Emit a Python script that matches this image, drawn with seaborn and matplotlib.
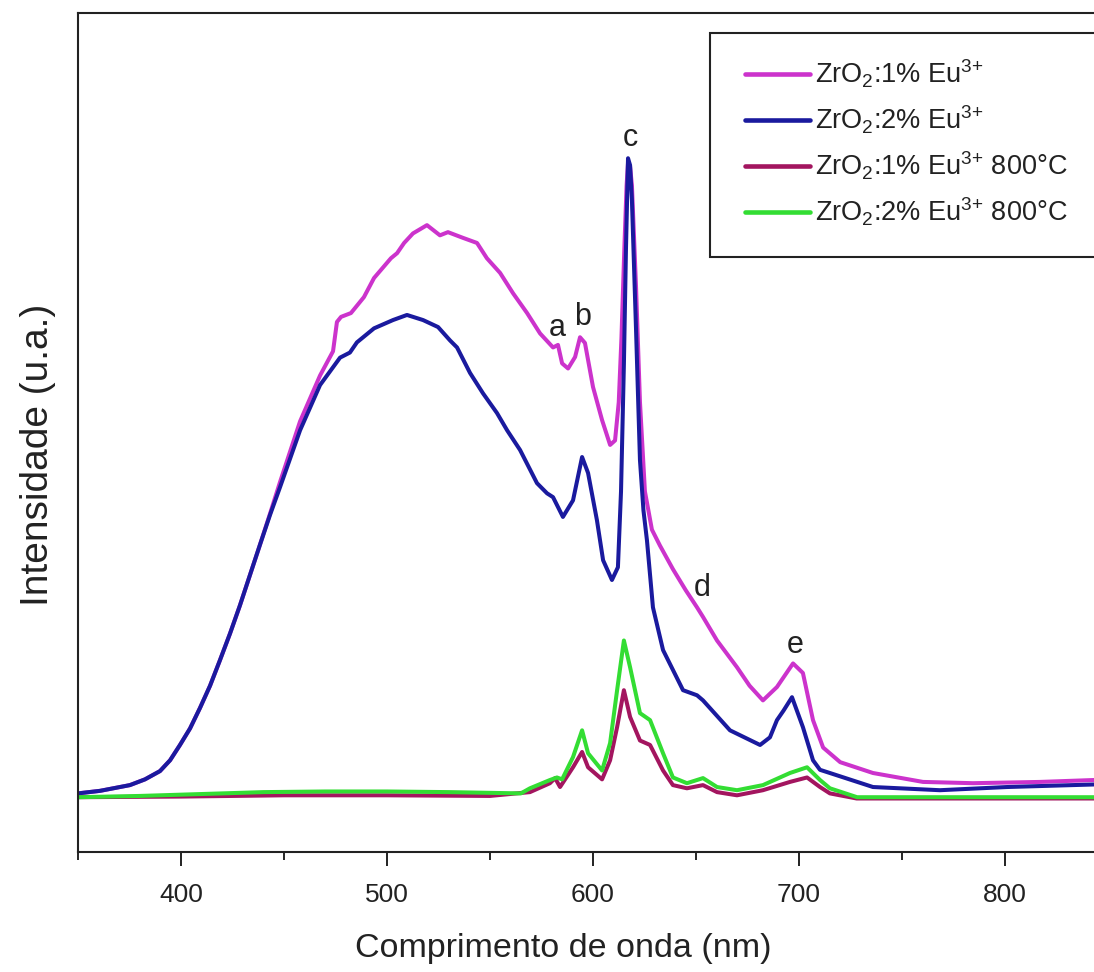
import numpy as np
import pandas as pd
import matplotlib
matplotlib.use("Agg")
import matplotlib.pyplot as plt
import matplotlib.patches as mpatches
import seaborn as sns

# ---------------- data (wavelength in nm, intensity in a.u.) ----------------
wl_1 = [350, 360.7, 375.2, 382.5, 389.8, 394.7, 399.5, 404.4, 409.2, 414.1, 418.9,
        423.8, 428.6, 433.5, 438.3, 443.2, 448.1, 457.8, 467.5, 473.8, 475.7, 477.7,
        482.5, 488.8, 493.7, 501.9, 504.9, 508.3, 512.6, 519.4, 525.7, 529.6, 536.9,
        543.7, 548.5, 554.9, 561.2, 568.0, 574.3, 580.6, 583.0, 585.0, 587.9, 591.3,
        593.7, 596.1, 600.0, 604.4, 608.3, 610.7, 612.5, 613.8, 615.2, 616.3, 617.0,
        618.0, 618.9, 620.9, 622.8, 625.2, 628.6, 632.5, 638.8, 645.0, 650.5, 653.4,
        660.2, 669.9, 676.0, 682.5, 689.3, 697.1, 701.9, 706.8, 711.7, 720.0, 735.9,
        760.2, 784.5, 817.0, 843.2, 850.0]
int_1 = [0.6, 1.0, 1.9, 2.8, 4.1, 5.8, 8.2, 10.8, 14.0, 17.5, 21.5,
         25.7, 30.1, 34.9, 39.6, 44.5, 49.5, 59.0, 66.2, 70.0, 74.6, 75.4,
         76.0, 78.5, 81.5, 84.6, 85.4, 87.0, 88.5, 89.8, 88.2, 88.7, 87.8,
         87.0, 84.6, 82.3, 79.1, 76.0, 72.8, 70.6, 71.0, 68.1, 67.3, 69.1,
         72.2, 71.3, 64.4, 59.2, 55.3, 56.0, 62.0, 72.0, 86.0, 96.0, 99.6,
         99.0, 96.0, 80.0, 62.0, 48.0, 42.0, 39.5, 35.8, 32.5, 29.8, 28.3,
         24.6, 20.4, 17.5, 15.2, 17.3, 21.0, 19.5, 12.1, 7.8, 5.5, 3.8,
         2.4, 2.2, 2.4, 2.7, 2.8]

wl_2 = [350, 360.7, 375.2, 382.5, 389.8, 394.7, 399.5, 404.4, 409.2, 414.1, 418.9,
        423.8, 428.6, 433.5, 438.3, 443.2, 448.1, 457.8, 467.5, 477.2, 482.0, 485.4,
        493.7, 502.9, 509.7, 517.5, 524.8, 530.6, 534.0, 540.3, 546.6, 553.4, 558.3,
        564.6, 572.8, 577.7, 580.6, 585.4, 590.3, 594.7, 597.6, 601.9, 604.9, 609.2,
        612.1, 613.6, 615.0, 616.0, 617.0, 618.0, 618.9, 620.9, 622.8, 624.5, 626.2,
        629.1, 634.0, 643.7, 650.5, 653.4, 666.5, 681.1, 685.9, 689.3, 692.5, 696.6,
        701.9, 706.8, 710.2, 715.0, 735.9, 768.4, 801.0, 843.2, 850.0]
int_2 = [0.6, 1.0, 1.9, 2.8, 4.1, 5.8, 8.2, 10.8, 14.0, 17.5, 21.5,
         25.7, 30.1, 34.9, 39.6, 44.3, 48.7, 57.6, 64.7, 69.0, 69.8, 71.4,
         73.6, 74.9, 75.7, 74.9, 73.8, 71.7, 70.6, 66.6, 63.4, 60.3, 57.6,
         54.5, 49.3, 47.7, 47.1, 44.0, 46.6, 53.4, 50.9, 43.5, 37.2, 34.1,
         36.1, 48.0, 68.0, 86.0, 100.3, 99.2, 93.7, 73.3, 52.9, 45.0, 40.3,
         29.8, 23.1, 16.8, 16.0, 15.2, 10.5, 8.2, 9.4, 12.1, 13.6, 15.7,
         11.0, 5.8, 4.3, 3.8, 1.6, 1.1, 1.6, 2.0, 2.1]

wl_3 = [350, 400, 450, 500, 550, 569.4, 579.1, 581.6, 584.0, 590.3, 594.7, 597.6,
        604.4, 608.3, 611.7, 615.0, 618.0, 622.8, 627.7, 634.0, 638.8, 645.6, 653.4,
        660.2, 669.9, 682.5, 695.6, 703.9, 710.2, 715.0, 728.0, 850.0]
int_3 = [0.0, 0.1, 0.3, 0.3, 0.2, 0.8, 2.2, 3.0, 1.6, 4.7, 7.1, 4.7,
         2.8, 5.8, 11.0, 16.8, 12.6, 8.9, 8.2, 4.2, 1.9, 1.4, 1.9,
         0.8, 0.3, 1.1, 2.4, 3.1, 1.6, 0.6, -0.2, -0.2]

wl_4 = [350, 380, 410, 440, 470, 500, 530, 565, 569.4, 579.1, 582.5, 585.0, 590.3,
        594.7, 597.6, 604.4, 608.3, 611.7, 615.0, 618.0, 622.8, 627.7, 634.0, 638.8,
        645.6, 653.4, 660.2, 669.9, 682.5, 695.6, 703.9, 710.2, 715.0, 728.2, 850.0]
int_4 = [0.0, 0.2, 0.5, 0.8, 0.9, 0.9, 0.8, 0.6, 1.4, 2.7, 3.1, 2.8, 6.3,
         10.5, 6.9, 4.2, 8.5, 16.8, 24.6, 20.4, 13.2, 12.1, 6.9, 3.1,
         2.2, 3.0, 1.6, 1.1, 1.9, 3.8, 4.7, 2.7, 1.4, 0.0, 0.0]

series_labels = [r"ZrO$_2$:1% Eu$^{3{+}}$",
                 r"ZrO$_2$:2% Eu$^{3{+}}$",
                 r"ZrO$_2$:1% Eu$^{3{+}}$ 800°C",
                 r"ZrO$_2$:2% Eu$^{3{+}}$ 800°C"]
series_colors = ["#cc33cc", "#1a1a9e", "#a3155f", "#33dd33"]

peak_labels = ["a", "b", "c", "d", "e"]
peak_x = [582.5, 595.1, 618.0, 652.9, 698.0]
peak_y = [73.6, 75.4, 103.5, 32.8, 23.9]

x_ticks = [400, 500, 600, 700, 800]

# ---------------- build long-form table ----------------
frames = []
for lab, w, v in zip(series_labels, [wl_1, wl_2, wl_3, wl_4], [int_1, int_2, int_3, int_4]):
    frames.append(pd.DataFrame({"wl": w, "I": v, "serie": lab}))
df = pd.concat(frames, ignore_index=True)

# ---------------- style ----------------
sns.set_style("ticks")
plt.rcParams["font.family"] = ["Liberation Sans", "DejaVu Sans"]
plt.rcParams["mathtext.fontset"] = "custom"
plt.rcParams["mathtext.rm"] = "Liberation Sans"
plt.rcParams["mathtext.it"] = "Liberation Sans:italic"
plt.rcParams["mathtext.bf"] = "Liberation Sans:bold"
plt.rcParams["text.color"] = "#222222"

W, H = 1094, 972
fig = plt.figure(figsize=(W / 100, H / 100), dpi=100)
ax = fig.add_axes([78 / W, (H - 852) / H, 1030 / W, (852 - 13) / H])

palette = dict(zip(series_labels, series_colors))
sns.lineplot(data=df, x="wl", y="I", hue="serie", hue_order=series_labels,
             palette=palette, estimator=None, sort=True, linewidth=2.9, ax=ax)
for ln in ax.get_lines():
    ln.set_solid_joinstyle("round")
    ln.set_solid_capstyle("round")

ax.set_xlim(350, 850)
ax.set_ylim(-8.6, 123.1)
ax.set_xticks(x_ticks)
ax.set_xticks(np.arange(350, 851, 50), minor=True)
ax.set_yticks([])
ax.tick_params(axis="x", which="major", length=10, width=1.4, direction="out",
               labelsize=19, pad=12, colors="#222222")
ax.tick_params(axis="x", which="minor", length=6, width=1.4, direction="out")
for side in ["left", "bottom", "top", "right"]:
    ax.spines[side].set_linewidth(1.5)
    ax.spines[side].set_color("#222222")
ax.set_xlabel("")
ax.set_ylabel("")

fig.text(563 / W, 1 - 948 / H, "Comprimento de onda (nm)", fontsize=24.5,
         ha="center", va="center")
fig.text(38 / W, 1 - 455 / H, "Intensidade (u.a.)", fontsize=28, rotation=90,
         ha="center", va="center")

for t, x, y in zip(peak_labels, peak_x, peak_y):
    ax.text(x, y, t, fontsize=22, ha="center", va="center", color="#222222")

# legend box
box = mpatches.Rectangle((710 / W, 1 - 257 / H), (1110 - 710) / W, (257 - 33) / H,
                         transform=fig.transFigure, facecolor="white",
                         edgecolor="#222222", linewidth=1.5, zorder=4, clip_on=False)
ax.add_patch(box)

handles, labels = ax.get_legend_handles_labels()
for h in handles:
    h.set_linewidth(3.3)
leg = ax.legend(handles, labels, loc="upper left",
                bbox_to_anchor=(745 / W, 1 - 58 / H), bbox_transform=fig.transFigure,
                fontsize=19.5, frameon=False, borderpad=0, borderaxespad=0,
                handlelength=2.4, handletextpad=0.18, labelspacing=0.5)
leg.set_zorder(6)

fig.savefig("out.png", dpi=100)
